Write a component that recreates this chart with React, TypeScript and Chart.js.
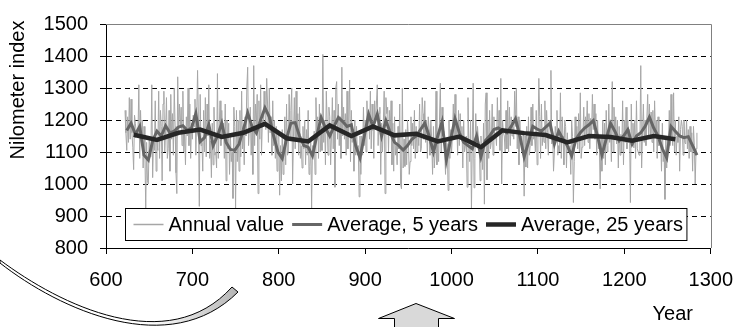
import React, { useEffect, useRef } from "react";
import { Chart, registerables } from "chart.js";

Chart.register(...registerables);

const FONT = "'Liberation Sans', Arial, Helvetica, sans-serif";

// Axis labels
const Y_TITLE = "Nilometer index";
const X_TITLE = "Year";
const LEGEND_LABELS = ["Annual value", "Average, 5 years", "Average, 25 years"];

// Annual values, first year 622
const ANNUAL_START = 622;
const ANNUAL = [
  1230,1160,1105,1210,1130, 1270,1140,1265,1160,1115,
  1045,1215,1190,1160,1165, 1150,1310,1080,1230,1130,
  1200,1050,1180,1100,920, 1130,1010,1000,1150,1085,
  1100,1310,1020,1140,1105, 1260,1040,1130,1105,1290,
  1080,1230,1180,1010,1250, 1290,1100,1170,1270,1080,
  1110,1230,1040,1280,1140, 1220,1090,1300,1180,1035,
  970,1335,1160,1250,1175, 1240,1120,1290,1100,1160,
  1060,1210,1150,1300,1120, 1250,1080,1190,1140,1215,
  1180,1265,1090,1210,1355, 1200,930,1280,1120,1130,
  1040,1230,1100,1270,1085, 1250,1150,1310,1080,1135,
  1020,1190,1060,1240,1090, 1100,1050,1345,1080,1175,
  1260,1120,1230,1150,1190, 1080,1250,1010,1200,1110,
  1190,1030,1150,1070,1100, 955,1240,1180,920,1230,
  1070,1200,1040,1230,1085, 1290,1110,1180,1060,1210,
  1150,1300,1365,1120,1175, 1240,1090,1170,1030,1370,
  1120,1250,1180,1280,970, 1260,1140,1310,1090,1200,
  1180,1290,1220,1170,1330, 1250,1130,1300,1160,1210,
  1090,1260,1120,1200,1080, 1180,1040,1150,1165,965,
  1120,1010,1170,1030,1070, 1210,1060,1250,1090,1100,
  1280,1140,1230,1300,1000, 1150,1270,1110,1290,1140,
  1220,1090,1240,1080,1120, 1050,1180,1110,1200,1060,
  1170,1090,1230,1030,1055, 1140,925,1120,1090,1165,
  1030,1270,1160,1210,1080, 1250,1100,1180,1105,1405,
  1130,1200,1060,1290,1195, 1090,1240,1210,1060,1150,
  1270,1110,1230,990,1300, 1320,1140,1250,1120,1210,
  1080,1365,1150,1240,1140, 1220,1090,1290,1110,1190,
  1325,1070,1230,1130,1170, 1040,1200,1090,1180,1090,
  1120,960,1150,1030,1150, 1090,1240,1120,1200,1100,
  1260,1170,1230,1140,1290, 1110,1250,1200,1080,1260,
  1190,1250,1310,1120,1220, 1240,1030,1190,1100,1190,
  1290,970,1270,1220,1240, 1100,1230,1150,1260,1060,
  1190,1040,1210,1090,1120, 1060,1180,1110,1250,1000,
  985,1300,1050,1140,1055, 1170,1060,1200,1140,1030,
  1070,1210,1120,1190,1110, 1230,1080,1180,1100,1160,
  1120,1250,1100,1110,1270, 1220,1140,1260,1130,1200,
  1080,1210,1170,1090,1200, 1140,1030,1180,1050,1100,
  1290,1060,1130,1070,1200, 1315,1100,1240,1150,1165,
  1110,1030,1130,1125,980, 1200,1080,1170,1100,1150,
  1250,1140,1280,1150,1200, 1090,1230,1120,1220,1140,
  1180,1050,1200,1100,1120, 1150,990,1270,1120,1070,
  1200,917,1130,1315,988, 1080,1220,1130,1180,1140,
  1120,1010,1150,1100,1045, 1190,937,1250,1285,1013,
  1200,1080,1230,1110,1130, 1250,1090,1210,1140,1160,
  1120,1270,1150,1230,1105, 1330,1000,1200,1160,1150,
  1100,1230,1110,1260,1100, 1240,1120,1210,1150,1180,
  1140,1290,1180,1300,1110, 1210,1060,1200,1130,1150,
  1100,1160,962,1150,1053, 1180,1050,1210,1090,1120,
  1240,1120,1250,1140,1150, 1100,1230,1060,1140,1330,
  1210,1080,1250,1120,1165, 1130,1260,1110,1230,1160,
  1090,1200,1180,1355,1125, 1160,1040,1100,1180,1145,
  1230,1090,1120,1100,1285, 1080,1210,1150,1060,1200,
  1180,1050,1160,1100,1110, 1120,1030,1200,1148,942,
  1070,1210,1130,1180,1110, 1220,1100,1285,1080,1115,
  1150,1240,1120,1210,1155, 1260,1130,1220,1110,1205,
  1150,1280,1170,1250,1140, 1220,1090,1200,1110,1130,
  985,1150,1040,1200,1080, 1190,1060,1230,1100,1120,
  1250,1130,1180,1070,1320, 1100,1240,1150,1210,1125,
  1200,1050,1180,1090,1155, 1100,1260,1060,1200,1130,
  1240,1110,1200,1130,1170, 942,1250,1130,1190,1113,
  1200,1080,1260,1110,1100, 1090,1130,1370,1050,1160,
  1250,1130,1200,1120,1200, 1280,1150,1250,1140,1225,
  1130,1230,1100,1260,1155, 1200,1080,1210,1120,1140,
  1150,1040,1190,1070,1100, 952,1150,1050,1140,1118,
  1230,1120,1280,1150,1120, 1285,1100,1200,1090,1150,
  1130,1210,1040,1170,1200, 1180,1090,1200,1130,1125,
  1200,1110,1170,1080,1180, 1100,1160,1040,1180,1120,
  1000,1110,1160,
];

// 5-year averages, centred years 624, 629, ...
const AVG5_START = 624;
const AVG5_STEP = 5;
const AVG5 = [
  1167,1190,1155,1180,1090,1075,1135,1165,1150,1182,
  1160,1165,1178,1182,1168,1175,1220,1132,1145,1185,
  1120,1150,1190,1130,1108,1105,1125,1170,1222,1180,
  1160,1200,1238,1210,1150,1100,1080,1142,1190,1192,
  1150,1120,1115,1088,1150,1208,1175,1150,1180,1208,
  1195,1180,1185,1120,1082,1150,1218,1180,1218,1150,
  1198,1160,1130,1120,1106,1120,1140,1150,1170,1190,
  1150,1100,1150,1194,1075,1140,1204,1160,1130,1120,
  1110,1150,1085,1135,1150,1170,1175,1168,1160,1180,
  1204,1150,1085,1130,1180,1172,1165,1178,1190,1125,
  1165,1140,1120,1088,1140,1160,1175,1185,1198,1150,
  1091,1140,1190,1165,1135,1150,1170,1125,1150,1160,
  1180,1209,1175,1150,1110,1082,1180,1165,1150,1145,
  1148,1120,1090,
];

// 25-year averages
const AVG25_YEARS = [632,659,684,709,734,759,784,809,834,859,884,909,934,959,984,1009,1034,1059,1084,1109,1134,1159,1184,1209,1234,1259];
const AVG25 = [1154,1138,1160,1170,1147,1160,1188,1143,1133,1183,1150,1180,1152,1157,1133,1148,1115,1168,1159,1153,1130,1150,1147,1135,1150,1140];

const X_MIN = 600, X_MAX = 1300, X_STEP = 100;
const Y_MIN = 800, Y_MAX = 1500, Y_STEP = 100;

const COLORS = ["#a6a6a6", "#666666", "#262626"];
const WIDTHS = [1, 3, 4.5];

export default function App() {
  const ref = useRef<HTMLCanvasElement>(null);

  useEffect(() => {
    document.body.style.margin = "0";
    const canvas = ref.current;
    if (!canvas) return;

    const annualPts = ANNUAL.map((v, i) => ({ x: ANNUAL_START + i, y: v }));
    const avg5Pts = AVG5.map((v, i) => ({ x: AVG5_START + i * AVG5_STEP, y: v }));
    const avg25Pts = AVG25.map((v, i) => ({ x: AVG25_YEARS[i], y: v }));

    const decor = {
      id: "decor",
      beforeDatasetsDraw(chart: any) {
        const { ctx, chartArea } = chart;
        const { left, right, top, bottom } = chartArea;
        ctx.save();
        ctx.strokeStyle = "#808080";
        ctx.lineWidth = 1;
        ctx.beginPath();
        ctx.moveTo(left, Math.round(top) + 0.5);
        ctx.lineTo(Math.round(right) + 0.5, Math.round(top) + 0.5);
        ctx.lineTo(Math.round(right) + 0.5, bottom);
        ctx.stroke();
        ctx.restore();
      },
      afterDatasetsDraw(chart: any) {
        const { ctx, chartArea } = chart;
        const { left, bottom } = chartArea;
        ctx.save();
        ctx.font = `20px ${FONT}`;
        const x0 = Math.round(left + 19) + 0.5;
        const y0 = Math.round(bottom - 40) + 0.5;
        const h = 32;
        let x = x0 + 8;
        const pos: number[] = [];
        LEGEND_LABELS.forEach((lab) => {
          pos.push(x);
          x += 35 + ctx.measureText(lab).width + 8;
        });
        const w = x - 8 + 4 - x0;
        ctx.fillStyle = "#ffffff";
        ctx.fillRect(x0, y0, w, h);
        ctx.strokeStyle = "#000";
        ctx.lineWidth = 1;
        ctx.strokeRect(x0, y0, w, h);
        const cy = y0 + h / 2;
        LEGEND_LABELS.forEach((lab, i) => {
          ctx.strokeStyle = COLORS[i];
          ctx.lineWidth = WIDTHS[i] === 1 ? 1.5 : WIDTHS[i];
          ctx.beginPath();
          ctx.moveTo(pos[i], cy);
          ctx.lineTo(pos[i] + 30, cy);
          ctx.stroke();
          ctx.fillStyle = "#000";
          ctx.textBaseline = "middle";
          ctx.textAlign = "left";
          ctx.fillText(lab, pos[i] + 35, cy + 1);
        });
        ctx.restore();
      },
      afterDraw(chart: any) {
        const { ctx, chartArea } = chart;
        const { top, right, bottom } = chartArea;
        ctx.save();
        ctx.fillStyle = "#000";
        ctx.font = `20px ${FONT}`;
        ctx.textAlign = "center";
        ctx.textBaseline = "middle";
        ctx.save();
        ctx.translate(18, top + 66);
        ctx.rotate(-Math.PI / 2);
        ctx.fillText(Y_TITLE, 0, 0);
        ctx.restore();
        ctx.fillText(X_TITLE, right - 38, bottom + 66);

        // curved arrow decoration
        ctx.beginPath();
        ctx.moveTo(0, 260);
        ctx.bezierCurveTo(60, 305, 168, 358, 232, 287);
        ctx.lineTo(238, 292);
        ctx.bezierCurveTo(170, 360, 60, 310, 0, 263);
        ctx.closePath();
        const g = ctx.createLinearGradient(150, 0, 238, 0);
        g.addColorStop(0, "#ffffff");
        g.addColorStop(1, "#b5b5b5");
        ctx.fillStyle = g;
        ctx.fill();
        ctx.strokeStyle = "#000";
        ctx.lineWidth = 1;
        ctx.stroke();

        // block up arrow
        ctx.beginPath();
        ctx.moveTo(416, 303.5);
        ctx.lineTo(454.5, 318.5);
        ctx.lineTo(438.5, 318.5);
        ctx.lineTo(438.5, 335);
        ctx.lineTo(394.5, 335);
        ctx.lineTo(394.5, 318.5);
        ctx.lineTo(378.5, 318.5);
        ctx.closePath();
        ctx.fillStyle = "#d9d9d9";
        ctx.fill();
        ctx.strokeStyle = "#000";
        ctx.stroke();
        ctx.restore();
      },
    };

    const tickFont = { family: FONT, size: 20 };

    const chart = new Chart(canvas, {
      type: "line",
      data: {
        datasets: [
          {
            label: LEGEND_LABELS[2],
            data: avg25Pts,
            borderColor: COLORS[2],
            borderWidth: WIDTHS[2],
            pointRadius: 0,
            tension: 0,
            order: 0,
          },
          {
            label: LEGEND_LABELS[1],
            data: avg5Pts,
            borderColor: COLORS[1],
            borderWidth: WIDTHS[1],
            pointRadius: 0,
            tension: 0,
            order: 1,
          },
          {
            label: LEGEND_LABELS[0],
            data: annualPts,
            borderColor: COLORS[0],
            borderWidth: WIDTHS[0],
            pointRadius: 0,
            tension: 0,
            order: 2,
          },
        ],
      },
      options: {
        responsive: false,
        animation: false,
        events: [],
        layout: { padding: { left: 0, right: 25, top: 12, bottom: 0 } },
        plugins: {
          legend: { display: false },
          tooltip: { enabled: false },
        },
        scales: {
          x: {
            type: "linear",
            min: X_MIN,
            max: X_MAX,
            ticks: {
              stepSize: X_STEP,
              color: "#000",
              font: tickFont,
              padding: 14,
              maxRotation: 0,
              autoSkip: false,
              callback: (v: any) => String(v),
            },
            grid: {
              drawOnChartArea: false,
              drawTicks: true,
              tickLength: 6,
              tickColor: "#000",
              color: "#000",
            },
            border: { color: "#000", width: 1 },
            afterFit: (s: any) => {
              s.height = 79;
            },
          },
          y: {
            type: "linear",
            min: Y_MIN,
            max: Y_MAX,
            ticks: {
              stepSize: Y_STEP,
              color: "#000",
              font: tickFont,
              padding: 12,
              callback: (v: any) => String(v),
            },
            grid: {
              color: (c: any) =>
                c.tick && (c.tick.value === Y_MAX || c.tick.value === Y_MIN)
                  ? "rgba(0,0,0,0)"
                  : "#000",
              tickColor: "#000",
              tickLength: 6,
              lineWidth: 1,
            },
            border: { color: "#000", width: 1, dash: [5, 4] },
            afterFit: (s: any) => {
              s.width = 106;
            },
          },
        },
      },
      plugins: [decor],
    });

    return () => chart.destroy();
  }, []);

  return (
    <div style={{ width: 747, height: 327, position: "relative", overflow: "hidden" }}>
      <canvas ref={ref} width={747} height={327} style={{ display: "block" }} />
    </div>
  );
}
